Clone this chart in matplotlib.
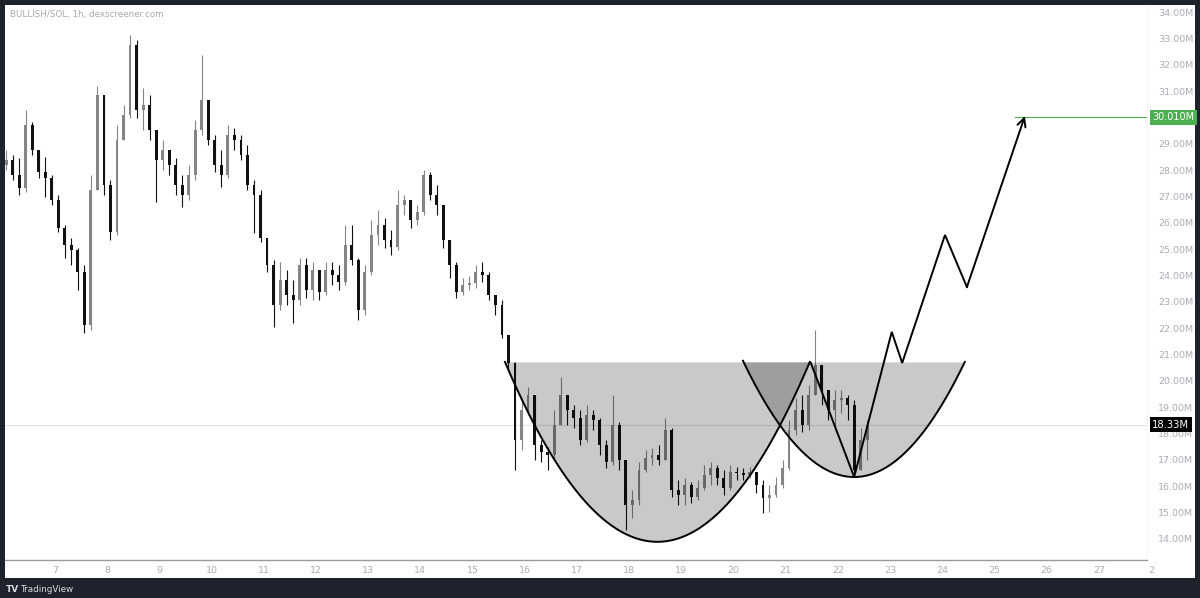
import numpy as np
import matplotlib.pyplot as plt

# BULLISH/SOL, 3h candles, prices in millions
first_open = 28.19
closes = [28.38, 27.81, 27.32, 29.71, 28.76, 27.93, 27.70, 26.87, 25.80, 25.16,
          24.97, 24.13, 22.12, 27.25, 30.85, 27.43, 25.65, 29.14, 30.09, 32.75,
          30.28, 30.47, 29.52, 28.38, 28.76, 28.19, 27.43, 27.06, 27.81, 29.52,
          30.66, 29.14, 28.19, 27.81, 29.33, 29.14, 28.57, 27.43, 27.06, 25.42,
          24.40, 22.88, 23.83, 23.26, 23.07, 24.40, 23.45, 24.21, 23.37, 24.21,
          24.02, 23.75, 25.16, 24.59, 22.69, 24.13, 25.54, 25.92, 25.35, 25.08,
          26.68, 26.87, 26.11, 26.41, 27.81, 27.06, 26.68, 25.35, 24.40, 23.37,
          23.64, 23.71, 24.13, 24.02, 23.26, 22.88, 21.74, 20.68, 17.76, 18.90,
          19.47, 17.57, 17.30, 17.19, 18.33, 19.47, 18.90, 18.59, 17.76, 18.71,
          18.52, 17.57, 16.92, 18.33, 17.00, 15.29, 15.48, 16.62, 17.07, 17.19,
          17.00, 18.14, 15.86, 15.67, 16.05, 15.59, 15.94, 16.43, 16.69, 16.31,
          15.94, 16.54, 16.50, 16.43, 16.54, 16.05, 15.56, 15.67, 16.05, 16.69,
          18.14, 18.90, 18.33, 19.47, 20.60, 19.66, 18.90, 19.27, 19.35, 19.09,
          16.62, 17.76, 18.33]
highs = [28.76, 28.57, 28.46, 30.28, 29.83, 28.46, 28.50, 27.81, 27.06, 25.92,
         25.42, 25.04, 24.40, 27.81, 31.19, 30.85, 27.62, 29.71, 30.47, 33.13,
         32.94, 31.12, 30.85, 29.14, 29.14, 28.76, 28.46, 27.81, 28.19, 29.90,
         32.37, 30.66, 29.33, 28.76, 29.71, 29.60, 29.33, 28.95, 27.62, 27.25,
         25.42, 24.59, 24.51, 24.21, 23.83, 24.66, 24.66, 24.51, 24.02, 24.51,
         24.51, 24.40, 25.92, 25.92, 24.66, 24.40, 26.11, 26.48, 26.18, 25.73,
         27.25, 27.06, 26.87, 26.68, 28.00, 27.93, 27.43, 26.68, 25.16, 24.51,
         23.90, 23.98, 24.40, 24.51, 24.13, 23.26, 23.07, 21.74, 20.72, 19.27,
         19.77, 19.27, 17.76, 17.49, 18.90, 20.15, 19.47, 19.09, 18.90, 19.09,
         18.90, 18.59, 17.76, 19.47, 18.44, 17.00, 15.86, 16.92, 17.38, 17.45,
         17.57, 18.59, 18.21, 16.24, 16.31, 16.16, 16.24, 16.81, 16.92, 16.81,
         16.62, 16.81, 16.73, 16.69, 16.73, 16.54, 16.24, 16.05, 16.35, 17.00,
         18.52, 19.35, 19.47, 19.84, 21.93, 20.49, 19.66, 19.66, 19.66, 19.47,
         19.27, 18.21, 18.52]
lows = [28.00, 27.62, 27.06, 27.17, 28.57, 27.70, 26.98, 26.68, 25.65, 24.66,
        24.40, 23.45, 21.82, 21.93, 27.25, 27.06, 25.35, 25.54, 29.14, 29.98,
        29.98, 29.52, 29.14, 26.79, 28.00, 27.81, 27.06, 26.60, 26.87, 27.62,
        29.33, 28.95, 27.93, 27.36, 27.70, 28.76, 28.38, 27.25, 25.61, 25.27,
        24.13, 22.05, 22.69, 22.88, 22.20, 22.88, 23.14, 23.07, 23.07, 23.26,
        23.64, 23.45, 23.64, 24.40, 22.31, 22.50, 24.02, 25.16, 25.04, 24.78,
        24.97, 26.30, 25.80, 25.92, 26.30, 26.87, 26.30, 25.04, 23.90, 23.14,
        23.26, 23.45, 23.53, 23.75, 23.07, 22.50, 21.63, 20.41, 16.62, 17.38,
        18.71, 17.00, 16.92, 16.62, 17.07, 18.33, 18.33, 18.21, 17.57, 17.68,
        18.14, 17.19, 16.69, 16.81, 16.62, 14.34, 14.80, 15.29, 16.54, 16.81,
        16.81, 17.00, 15.59, 15.29, 15.29, 15.37, 15.48, 15.86, 16.05, 16.05,
        15.67, 15.86, 16.24, 16.24, 16.31, 15.75, 14.99, 15.02, 15.59, 15.94,
        16.62, 17.95, 18.06, 18.14, 19.47, 19.09, 18.52, 18.14, 18.78, 18.52,
        16.35, 16.81, 17.00]

day_labels = ['7', '8', '9', '10', '11', '12', '13', '14', '15', '16', '17',
              '18', '19', '20', '21', '22', '23', '24', '25', '26', '27']
# 30.00M sits under the target label, so it is not listed
price_ticks = [14, 15, 16, 17, 18, 19, 20, 21, 22, 23, 24, 25, 26, 27, 28,
               29, 31, 32, 33, 34]

# drawings: cup and handle arcs (left, centre, right, bottom), neckline, projection
neckline = 20.72
cup = (15.62, 18.54, 21.46, 13.89)
handle = (20.18, 22.31, 24.43, 16.35)
proj_x = [21.48, 22.31, 23.03, 23.23, 24.05, 24.47, 25.58]
proj_y = [20.68, 16.35, 21.86, 20.68, 25.54, 23.56, 30.05]
target = 30.01
last_price = 18.33

bg = '#1e222d'
txt = '#a9acb3'
up_col = '#858585'
dn_col = '#111111'

fig = plt.figure(figsize=(12, 5.98), dpi=100, facecolor=bg)
# white chart panel
fig.patches.append(plt.Rectangle((5 / 1200, 20 / 598), 1190 / 1200, 573 / 598,
                                 transform=fig.transFigure, facecolor='white',
                                 edgecolor='none', zorder=-10))
ax = fig.add_axes([5 / 1200, 38 / 598, 1142 / 1200, 554 / 598])
ax.set_facecolor('white')

n = len(closes)
t = 6 + 0.125 * np.arange(n) + 0.0625
opens = np.r_[first_open, closes[:-1]]
c = np.array(closes)
hi = np.maximum(np.array(highs), np.maximum(opens, c))
lo = np.minimum(np.array(lows), np.minimum(opens, c))
up = c >= opens
cols = np.where(up, up_col, dn_col)

ax.vlines(t, lo, hi, colors=cols, lw=0.8, zorder=2)
ax.bar(t, np.maximum(np.abs(c - opens), 0.04), bottom=np.minimum(opens, c),
       width=0.055, color=cols, zorder=3)

# last price line
ax.axhline(last_price, color='#e3e3e3', lw=0.8, zorder=1)


def arc(spec, num=200):
    x0, xm, x1, yb = spec
    xs = np.linspace(x0, x1, num)
    ys = yb + (neckline - yb) * ((xs - xm) / (x1 - xm)) ** 2
    return xs, ys


for spec in (cup, handle):
    xs, ys = arc(spec)
    ax.fill_between(xs, ys, neckline, color='black', alpha=0.21, lw=0, zorder=4)
    ax.plot(xs, ys, color='black', lw=1.4, zorder=5)

ax.plot(proj_x[:-1], proj_y[:-1], color='black', lw=1.4, zorder=5,
        solid_joinstyle='miter')
ax.annotate('', xy=(proj_x[-1], proj_y[-1]), xytext=(proj_x[-2], proj_y[-2]),
            arrowprops=dict(arrowstyle='->,head_length=0.6,head_width=0.3',
                            color='black', lw=1.4, shrinkA=0, shrinkB=0),
            zorder=6)

ax.plot([25.39, 27.92], [target, target], color='#4caf50', lw=0.8, zorder=5)

ax.set_xlim(6.042, 27.92)
ax.set_ylim(13.20, 34.23)

ax.set_xticks(range(7, 28))
ax.set_xticklabels(day_labels)
ax.yaxis.tick_right()
ax.set_yticks(price_ticks)
ax.set_yticklabels(['%.2fM' % p for p in price_ticks])
ax.tick_params(axis='x', length=0, pad=4, labelsize=6.8, colors=txt)
ax.tick_params(axis='y', length=0, pad=8, labelsize=6.8, colors=txt)
for s in ('top', 'left'):
    ax.spines[s].set_visible(False)
ax.spines['bottom'].set_color('#9a9a9a')
ax.spines['bottom'].set_linewidth(1.0)
ax.spines['right'].set_color('#f2f2f2')
ax.spines['right'].set_linewidth(0.6)
# next day label, cut by the price scale
ax.annotate('2', xy=(28.0, 0), xycoords=ax.get_xaxis_transform(),
            xytext=(0, -4), textcoords='offset points', ha='center', va='top',
            fontsize=6.8, color=txt, annotation_clip=False)

# price labels on the scale
yt = ax.get_yaxis_transform()
ax.text(1.0045, target, '30.010M', transform=yt, ha='left', va='center',
        fontsize=7, color='white', clip_on=False,
        bbox=dict(boxstyle='square,pad=0.25', fc='#4caf50', ec='none'))
ax.text(1.0045, last_price, '18.33M', transform=yt, ha='left', va='center',
        fontsize=7.2, color='white', clip_on=False,
        bbox=dict(boxstyle='square,pad=0.25', fc='black', ec='none'))

fig.text(10 / 1200, 1 - 14 / 598, 'BULLISH/SOL, 1h, dexscreener.com',
         fontsize=6.3, color='#a6a9b0', va='center', ha='left')
fig.text(6 / 1200, 1 - 589 / 598, 'TV', fontsize=6.5, color='#d8d9dc',
         fontweight='bold', va='center', ha='left')
fig.text(20 / 1200, 1 - 589 / 598, 'TradingView', fontsize=6.3,
         color='#d8d9dc', va='center', ha='left')

fig.savefig('out.png', dpi=100, facecolor=bg)
